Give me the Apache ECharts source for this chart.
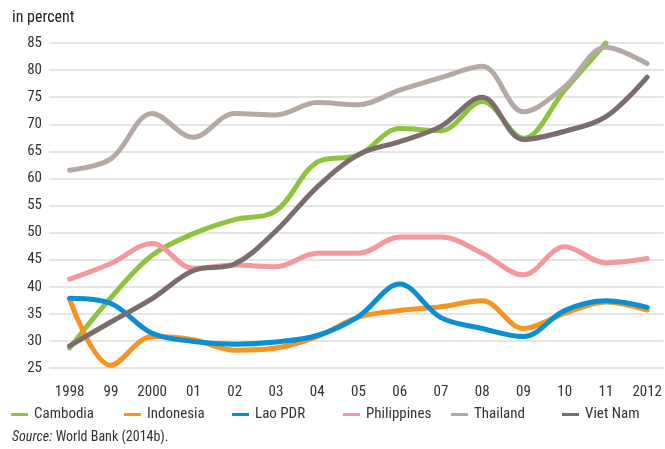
<!DOCTYPE html>
<html>
<head>
<meta charset="utf-8">
<script src="https://cdn.jsdelivr.net/npm/echarts@6/dist/echarts.min.js"></script>
<style>
  html, body { margin: 0; padding: 0; background: #fff; }
  #chart { width: 665px; height: 449px; }
</style>
</head>
<body>
<div id="chart"></div>
<script>
const years = [1998, 1999, 2000, 2001, 2002, 2003, 2004, 2005, 2006, 2007, 2008, 2009, 2010, 2011, 2012];
const yearLabels = ['1998', '99', '2000', '01', '02', '03', '04', '05', '06', '07', '08', '09', '10', '11', '2012'];

const cambodia    = [28.7, 38.0, 45.8, 49.8, 52.4, 54.0, 63.0, 64.3, 69.2, 68.8, 74.2, 67.4, 76.3, 85.0];
const indonesia   = [37.7, 25.5, 30.8, 30.2, 28.3, 28.7, 30.8, 34.4, 35.6, 36.3, 37.4, 32.3, 35.1, 37.2, 35.7];
const laoPdr      = [37.9, 36.9, 31.4, 29.9, 29.4, 29.8, 31.0, 34.5, 40.5, 34.3, 32.3, 30.8, 35.6, 37.4, 36.2];
const philippines = [41.4, 44.3, 48.0, 43.4, 44.0, 43.7, 46.2, 46.2, 49.2, 49.2, 46.2, 42.2, 47.4, 44.4, 45.2];
const thailand    = [61.5, 63.6, 72.0, 67.6, 72.0, 71.7, 74.0, 73.6, 76.3, 78.6, 80.7, 72.3, 76.9, 84.2, 81.2];
const vietNam     = [29.1, 33.5, 37.8, 43.0, 44.2, 50.3, 58.4, 64.4, 66.8, 69.6, 75.0, 67.2, 68.7, 71.4, 78.7];

const seriesNames  = ['Cambodia', 'Indonesia', 'Lao PDR', 'Philippines', 'Thailand', 'Viet Nam'];
const seriesValues = [cambodia, indonesia, laoPdr, philippines, thailand, vietNam];
const colors = ['#8cc43f', '#f7931e', '#0a8fd2', '#f4989e', '#b4a9a4', '#7b6d6b'];
const legendLeft = [11, 124, 232, 343, 451, 562];

const FONT = "'Liberation Sans Narrow', 'Roboto Condensed', 'DejaVu Sans Condensed', 'Arial Narrow', sans-serif";

const chart = echarts.init(document.getElementById('chart'));

const series = seriesNames.map((name, i) => ({
  name,
  type: 'line',
  smooth: 0.35,
  symbol: 'none',
  lineStyle: { width: 5, color: colors[i], cap: 'round', join: 'round' },
  itemStyle: { color: colors[i] },
  data: seriesValues[i].map((v, k) => [years[k], v])
}));

// one legend per item so each sits at its own fixed column
const legends = seriesNames.map((name, i) => ({
  data: [name],
  left: legendLeft[i],
  top: 407,
  icon: 'rect',
  itemWidth: 17,
  itemHeight: 3,
  itemGap: 0,
  padding: 0,
  selectedMode: false,
  textStyle: { fontFamily: FONT, fontSize: 15, color: '#333', padding: [0, 0, 0, 1] }
}));

const option = {
  animation: false,
  color: colors,
  legend: legends,
  grid: { left: 49, right: 0, top: 43, bottom: 81 },
  xAxis: {
    type: 'value',
    min: 1997.5,
    max: 2012.4,
    interval: 0.5,
    axisLine: { show: false },
    axisTick: { show: false },
    splitLine: { show: false },
    axisLabel: {
      margin: 17,
      fontFamily: FONT,
      fontSize: 15,
      color: '#333',
      showMinLabel: false,
      showMaxLabel: false,
      formatter: v => {
        const k = years.indexOf(Math.round(v * 10) / 10);
        return k >= 0 ? yearLabels[k] : '';
      }
    }
  },
  yAxis: {
    type: 'value',
    min: 25,
    max: 85,
    interval: 5,
    axisLine: { show: false },
    axisTick: { show: false },
    axisLabel: { margin: 7, fontFamily: FONT, fontSize: 15, color: '#333' },
    splitLine: { lineStyle: { color: '#dcdcdc', width: 1.5 } }
  },
  graphic: [
    {
      type: 'text', left: 12, top: 10,
      style: { text: 'in percent', fontFamily: FONT, fontSize: 16, fill: '#222' }
    },
    {
      type: 'text', left: 12, top: 430,
      style: {
        text: '{i|Source:} {n|World Bank (2014b).}',
        rich: {
          i: { fontFamily: FONT, fontSize: 14, fontStyle: 'italic', fill: '#333' },
          n: { fontFamily: FONT, fontSize: 14, fill: '#333' }
        }
      }
    }
  ],
  series
};

chart.setOption(option);
</script>
</body>
</html>
